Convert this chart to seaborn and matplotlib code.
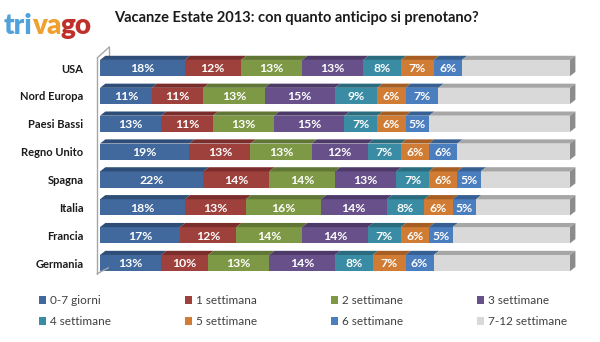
import matplotlib
matplotlib.use("Agg")
import numpy as np
import pandas as pd
import seaborn as sns
import matplotlib.pyplot as plt
from matplotlib.patches import Polygon, Patch
from matplotlib.lines import Line2D

countries = ["USA", "Nord Europa", "Paesi Bassi", "Regno Unito", "Spagna", "Italia", "Francia", "Germania"]
series_names = ["0-7 giorni", "1 settimana", "2 settimane", "3 settimane",
                "4 settimane", "5 settimane", "6 settimane", "7-12 settimane"]
g0_7 = [18, 11, 13, 19, 22, 18, 17, 13]
s1 = [12, 11, 11, 13, 14, 13, 12, 10]
s2 = [13, 13, 13, 13, 14, 16, 14, 13]
s3 = [13, 15, 15, 12, 13, 14, 14, 14]
s4 = [8, 9, 7, 7, 7, 8, 7, 8]
s5 = [7, 6, 6, 6, 6, 6, 6, 7]
s6 = [6, 7, 5, 6, 5, 5, 5, 6]
s7_12 = [23, 28, 30, 24, 19, 20, 25, 29]
show_label = [True, True, True, True, True, True, True, False]

front = ["#41699D", "#9E403C", "#7E9946", "#68508A", "#3A8CA4", "#D07C34", "#4B7EBF", "#D9D9D9"]
top = ["#2E4E78", "#7A2D2A", "#5F7634", "#4D3A69", "#2A6B7E", "#A65E22", "#365F92", "#A6A6A6"]

sns.set_theme(style="white")
plt.rcParams["font.family"] = ["Lato", "DejaVu Sans"]

fig = plt.figure(figsize=(6, 3.42), dpi=100)
ax = fig.add_axes([100 / 600, (342 - 277) / 342, 470 / 600, 222.9 / 342])

data = [g0_7, s1, s2, s3, s4, s5, s6, s7_12]
vals = np.array(data, dtype=float)
cum = np.cumsum(vals, axis=0)
df = pd.DataFrame({"country": countries})
for k, name in enumerate(series_names):
    df[name] = cum[k]

bh = 0.58
for k in range(len(series_names) - 1, -1, -1):
    sns.barplot(data=df, x=series_names[k], y="country", order=countries, orient="h",
                color=front[k], saturation=1, width=bh, ax=ax, linewidth=0)

ax.set_xlim(0, 100)
ax.set_ylim(7.5, -0.5)

# 3D top faces and right side
dx, dy = 1.15, 0.15
for i in range(len(countries)):
    yt = i - bh / 2
    yb = i + bh / 2
    for k in range(len(series_names)):
        l = cum[k][i] - vals[k][i]
        r = cum[k][i]
        ax.add_patch(Polygon([(l, yt), (r, yt), (r + dx, yt - dy), (l + dx, yt - dy)],
                             closed=True, facecolor=top[k], edgecolor="none", clip_on=False, zorder=3))
        if show_label[k]:
            ax.text((l + r) / 2, i + 0.03, f"{int(vals[k][i])}%", ha="center", va="center",
                    color="white", fontsize=8.8, fontweight="bold", zorder=5)
    R = cum[-1][i]
    ax.add_patch(Polygon([(R, yt), (R + dx, yt - dy), (R + dx, yb - dy), (R, yb)],
                         closed=True, facecolor="#8C8C8C", edgecolor="none", clip_on=False, zorder=3))

# wall line
wx = -0.6
ax.add_line(Line2D([wx, wx], [-0.5 + 0.14, 7.5 - 0.12], color="#A6A6A6", lw=1, clip_on=False))
ax.add_line(Line2D([wx, wx + 2.6], [-0.5 + 0.14, -0.5 - 0.26], color="#A6A6A6", lw=1, clip_on=False))
ax.add_line(Line2D([wx + 2.6, wx + 2.6], [-0.5 - 0.26, -0.5 + 0.05], color="#A6A6A6", lw=1, clip_on=False))
ax.add_line(Line2D([wx, wx + 2.4], [7.5 - 0.12, 7.5 - 0.33], color="#A6A6A6", lw=1, clip_on=False))

ax.set_xlabel("")
ax.set_ylabel("")
ax.set_xticks([])
ax.tick_params(axis="y", length=0, pad=12)
for lab in ax.get_yticklabels():
    lab.set_fontweight("bold")
    lab.set_fontsize(8)
    lab.set_color("#1A1A1A")
for s in ax.spines.values():
    s.set_visible(False)

fig.text(296 / 600, 1 - 18 / 342, "Vacanze Estate 2013: con quanto anticipo si prenotano?",
         ha="center", va="center", fontsize=10.5, fontweight="bold", color="#1A1A1A")

# logo
renderer = fig.canvas.get_renderer()
x0 = 4
for txt, col in [("tri", "#4FA3DA"), ("va", "#F0A02E"), ("go", "#C0302A")]:
    t = fig.text(x0 / 600, 1 - 34 / 342, txt, fontsize=20, fontweight="heavy", color=col,
                 ha="left", va="baseline", family=["Lato", "DejaVu Sans"])
    bb = t.get_window_extent(renderer=renderer)
    x0 += bb.width - 1

# legends: 4 columns, 2 rows
col_x = [39, 185, 331, 477]
for c in range(4):
    handles = [Patch(facecolor=front[c], edgecolor="none"), Patch(facecolor=front[c + 4], edgecolor="none")]
    labels = [series_names[c], series_names[c + 4]]
    fig.legend(handles, labels, loc="upper left", bbox_to_anchor=(col_x[c] / 600, 1 - 295 / 342),
               frameon=False, fontsize=8.5, handlelength=0.6, handleheight=0.6, handletextpad=0.3,
               labelspacing=0.85, borderaxespad=0, borderpad=0, labelcolor="#404040")

fig.savefig("out.png", dpi=100)
